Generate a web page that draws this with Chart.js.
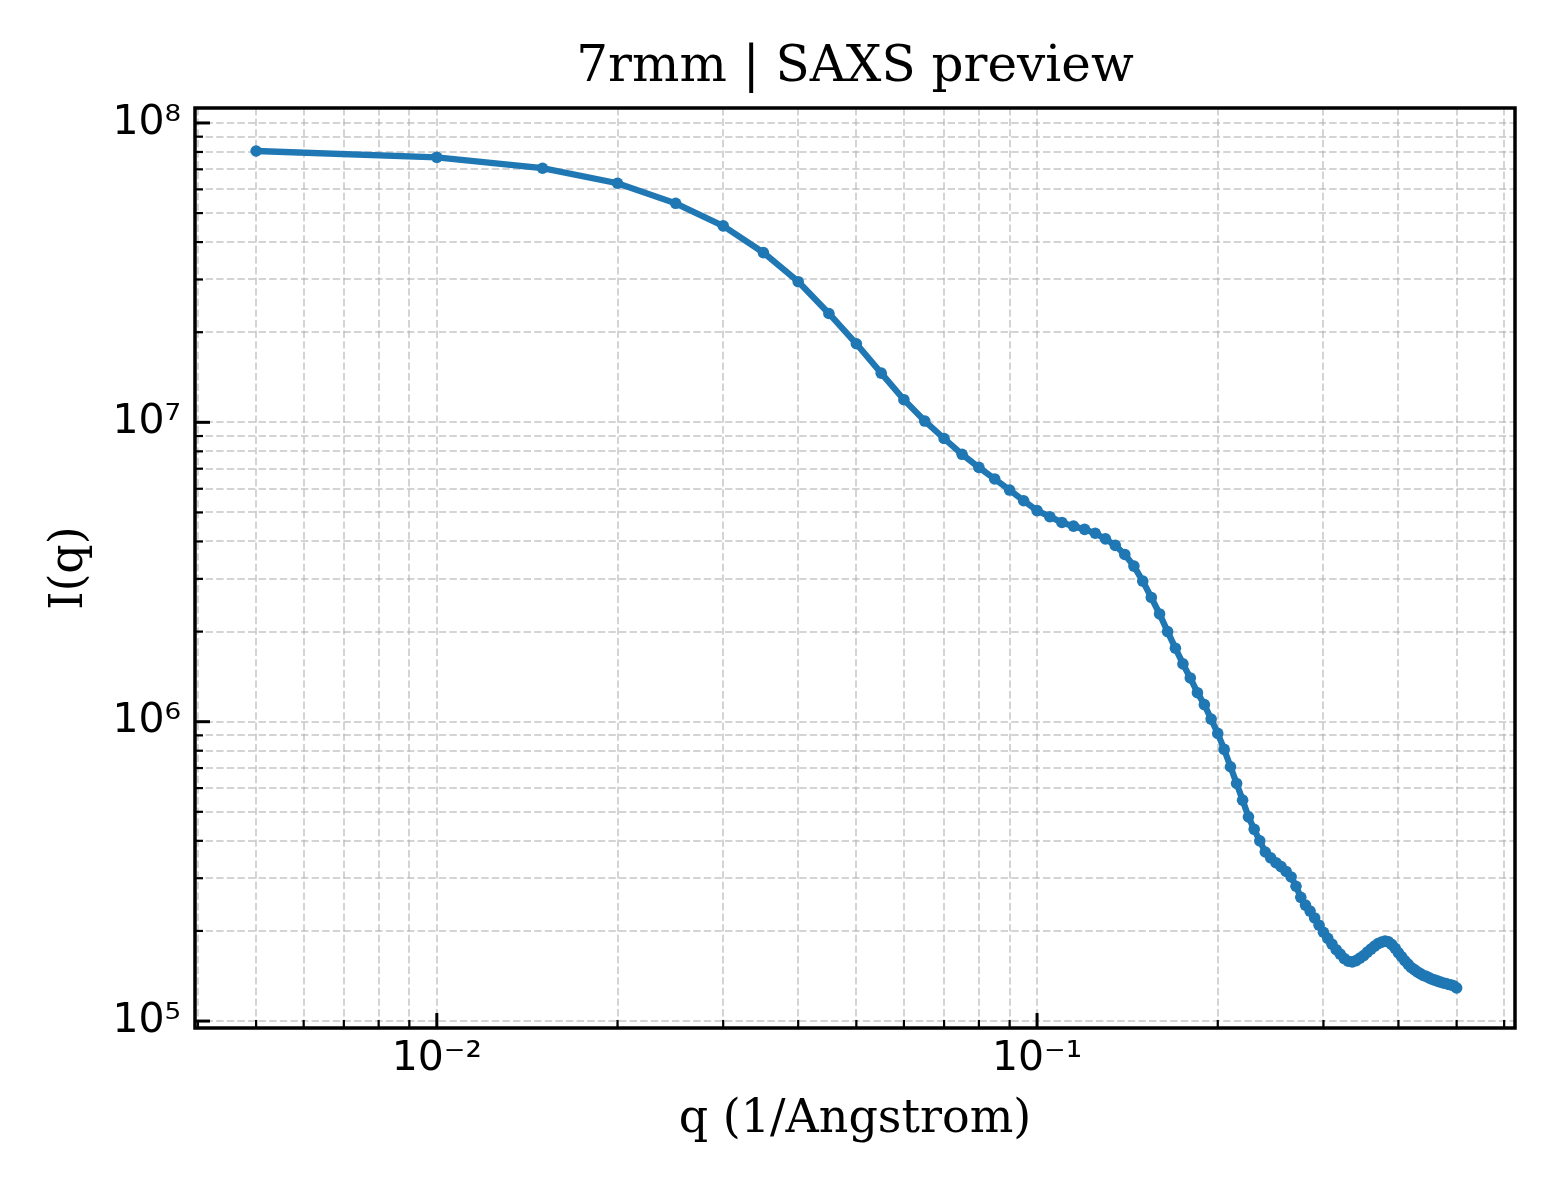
<!DOCTYPE html>
<html><head><meta charset="utf-8">
<script src="https://cdn.jsdelivr.net/npm/chart.js@4.4.1/dist/chart.umd.min.js"></script>
<style>html,body{margin:0;padding:0;background:#fff}</style>
</head><body>
<canvas id="c" width="1560" height="1200" style="width:1560px;height:1200px;display:block"></canvas>
<script>
const titleText = '7rmm | SAXS preview';
const xAxisLabel = 'q (1/Angstrom)';
const yAxisLabel = 'I(q)';

const qValues = [
  0.005, 0.010, 0.015, 0.020, 0.025, 0.030, 0.035, 0.040, 0.045, 0.050,
  0.055, 0.060, 0.065, 0.070, 0.075, 0.080, 0.085, 0.090, 0.095, 0.100,
  0.105, 0.110, 0.115, 0.120, 0.125, 0.130, 0.135, 0.140, 0.145, 0.150,
  0.155, 0.160, 0.165, 0.170, 0.175, 0.180, 0.185, 0.190, 0.195, 0.200,
  0.205, 0.210, 0.215, 0.220, 0.225, 0.230, 0.235, 0.240, 0.245, 0.250,
  0.255, 0.260, 0.265, 0.270, 0.275, 0.280, 0.285, 0.290, 0.295, 0.300,
  0.305, 0.310, 0.315, 0.320, 0.325, 0.330, 0.335, 0.340, 0.345, 0.350,
  0.355, 0.360, 0.365, 0.370, 0.375, 0.380, 0.385, 0.390, 0.395, 0.400,
  0.405, 0.410, 0.415, 0.420, 0.425, 0.430, 0.435, 0.440, 0.445, 0.450,
  0.455, 0.460, 0.465, 0.470, 0.475, 0.480, 0.485, 0.490, 0.495, 0.500
];
const intensity = [
  8.06e7, 7.68e7, 7.06e7, 6.29e7, 5.39e7, 4.53e7, 3.69e7, 2.95e7, 2.31e7, 1.83e7,
  1.46e7, 1.19e7, 1.01e7, 8.83e6, 7.82e6, 7.07e6, 6.47e6, 5.94e6, 5.47e6, 5.07e6,
  4.84e6, 4.63e6, 4.50e6, 4.39e6, 4.26e6, 4.08e6, 3.88e6, 3.62e6, 3.31e6, 2.95e6,
  2.60e6, 2.29e6, 2.00e6, 1.76e6, 1.56e6, 1.40e6, 1.25e6, 1.14e6, 1.02e6, 9.14e5,
  8.08e5, 7.07e5, 6.22e5, 5.47e5, 4.81e5, 4.37e5, 4.00e5, 3.67e5, 3.51e5, 3.38e5,
  3.28e5, 3.16e5, 3.03e5, 2.82e5, 2.59e5, 2.44e5, 2.33e5, 2.21e5, 2.09e5, 1.98e5,
  1.89e5, 1.806e5, 1.731e5, 1.673e5, 1.617e5, 1.585e5, 1.577e5, 1.592e5, 1.623e5, 1.654e5,
  1.699e5, 1.739e5, 1.780e5, 1.814e5, 1.835e5, 1.849e5, 1.84e5, 1.80e5, 1.75e5, 1.69e5,
  1.64e5, 1.59e5, 1.55e5, 1.51e5, 1.485e5, 1.46e5, 1.44e5, 1.42e5, 1.41e5, 1.395e5,
  1.38e5, 1.37e5, 1.36e5, 1.35e5, 1.34e5, 1.335e5, 1.325e5, 1.32e5, 1.31e5, 1.29e5
];

const xMajorTicks = [0.01, 0.1];
const xMajorLabels = ['10\u207B\u00B2', '10\u207B\u00B9'];
const yMajorTicks = [1e5, 1e6, 1e7, 1e8];
const yMajorLabels = ['10\u2075', '10\u2076', '10\u2077', '10\u2078'];
const xLimits = [0.003955, 0.6255];
const yLimits = [94800, 1.122e8];

const lineColor = '#1f77b4';
const gridColor = 'rgba(176,176,176,0.55)';

function logTickValues(min, max) {
  const out = [];
  const e0 = Math.floor(Math.log10(min)), e1 = Math.ceil(Math.log10(max));
  for (let e = e0; e <= e1; e++) {
    for (let m = 1; m <= 9; m++) {
      const v = parseFloat((m * Math.pow(10, e)).toPrecision(8));
      if (v >= min && v <= max) out.push(v);
    }
  }
  return out;
}
function isMajor(v, majors) { return majors.some(t => Math.abs(t - v) / t < 1e-9); }
function labelFor(v, majors, labels) {
  const i = majors.findIndex(t => Math.abs(t - v) / t < 1e-9);
  return i >= 0 ? labels[i] : '';
}

const frameAndTicks = {
  id: 'frameAndTicks',
  afterLayout(chart) {
    const tb = chart.titleBlock;
    if (tb) {
      tb.left = chart.chartArea.left;
      tb.right = chart.chartArea.right;
      tb.width = tb.right - tb.left;
    }
  },
  afterDraw(chart) {
    const ctx = chart.ctx, a = chart.chartArea;
    const xs = chart.scales.x, ys = chart.scales.y;
    ctx.save();
    ctx.strokeStyle = '#000';
    ctx.lineCap = 'butt';
    xs.ticks.forEach(t => {
      const px = xs.getPixelForValue(t.value);
      if (px < a.left + 1 || px > a.right - 1) return;
      const len = t.major ? 15 : 8;
      ctx.lineWidth = t.major ? 3 : 2.2;
      ctx.beginPath(); ctx.moveTo(px, a.bottom); ctx.lineTo(px, a.bottom - len); ctx.stroke();
    });
    ys.ticks.forEach(t => {
      const py = ys.getPixelForValue(t.value);
      if (py < a.top + 1 || py > a.bottom - 1) return;
      const len = t.major ? 15 : 8;
      ctx.lineWidth = t.major ? 3 : 2.2;
      ctx.beginPath(); ctx.moveTo(a.left, py); ctx.lineTo(a.left + len, py); ctx.stroke();
    });
    ctx.lineWidth = 3.5;
    ctx.strokeRect(a.left, a.top, a.right - a.left, a.bottom - a.top);
    ctx.restore();
  }
};

const points = qValues.map((q, i) => ({ x: q, y: intensity[i] }));

new Chart(document.getElementById('c'), {
  type: 'line',
  data: {
    datasets: [{
      data: points,
      borderColor: lineColor,
      backgroundColor: lineColor,
      borderWidth: 6.3,
      pointRadius: 5.8,
      pointBorderWidth: 0,
      pointBackgroundColor: lineColor,
      tension: 0,
      fill: false
    }]
  },
  options: {
    responsive: false,
    devicePixelRatio: 1,
    animation: false,
    events: [],
    layout: { padding: { left: 0, right: 45, top: 0, bottom: 0 } },
    plugins: {
      legend: { display: false },
      tooltip: { enabled: false },
      title: {
        display: true,
        text: titleText,
        color: '#000',
        font: { family: 'DejaVu Serif', size: 50, weight: 'normal', lineHeight: 1.2 },
        padding: { top: 38, bottom: 10 }
      }
    },
    scales: {
      x: {
        type: 'logarithmic',
        min: xLimits[0],
        max: xLimits[1],
        afterBuildTicks(scale) {
          scale.ticks = logTickValues(xLimits[0], xLimits[1]).map(v => ({ value: v, major: isMajor(v, xMajorTicks) }));
        },
        afterFit(scale) { scale.height = 172; },
        ticks: {
          autoSkip: false, maxRotation: 0, minRotation: 0,
          padding: 7,
          color: '#000',
          font: { family: 'DejaVu Sans', size: 41, lineHeight: 1.2 },
          callback: (v) => labelFor(v, xMajorTicks, xMajorLabels)
        },
        grid: { color: gridColor, lineWidth: 2, drawTicks: false },
        border: { display: false, dash: [7.4, 3.2] },
        title: {
          display: true, text: xAxisLabel, color: '#000',
          font: { family: 'DejaVu Serif', size: 46, lineHeight: 1.2 },
          padding: { top: 0, bottom: 52 }
        }
      },
      y: {
        type: 'logarithmic',
        min: yLimits[0],
        max: yLimits[1],
        afterBuildTicks(scale) {
          scale.ticks = logTickValues(yLimits[0], yLimits[1]).map(v => ({ value: v, major: isMajor(v, yMajorTicks) }));
        },
        afterFit(scale) { scale.width = 195; },
        ticks: {
          autoSkip: false,
          padding: 14,
          color: '#000',
          font: { family: 'DejaVu Sans', size: 41, lineHeight: 1.2 },
          callback: (v) => labelFor(v, yMajorTicks, yMajorLabels)
        },
        grid: { color: gridColor, lineWidth: 2, drawTicks: false },
        border: { display: false, dash: [7.4, 3.2] },
        title: {
          display: true, text: yAxisLabel, color: '#000',
          font: { family: 'DejaVu Serif', size: 46, lineHeight: 1.2 },
          padding: { top: 42, bottom: 0 }
        }
      }
    }
  },
  plugins: [frameAndTicks]
});
</script>
</body></html>
